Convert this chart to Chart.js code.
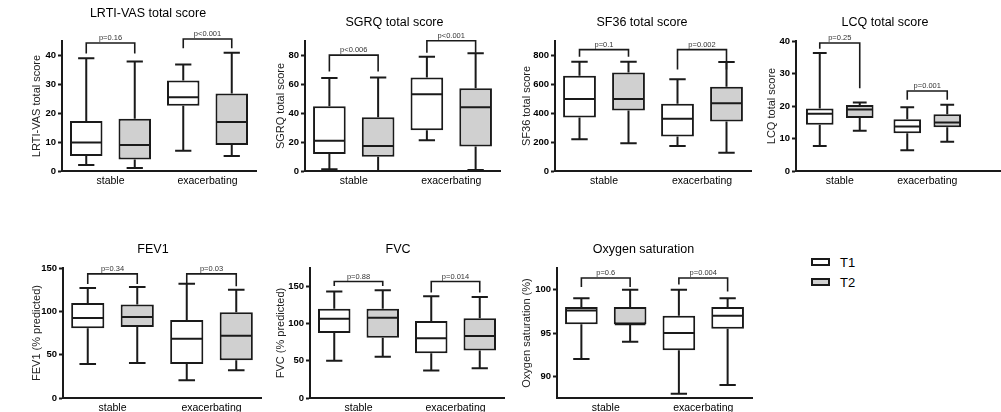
<!DOCTYPE html>
<html>
<head>
<meta charset="utf-8">
<script src="https://cdn.jsdelivr.net/npm/chart.js@4.4.0/dist/chart.umd.min.js"></script>
<style>
  html, body { margin: 0; padding: 0; background: #fff; overflow: hidden; width: 1001px; height: 412px; }
  canvas { position: absolute; }
  .key { position: absolute; left: 811px; height: 16px; display: flex; align-items: center;
         font: 13px 'Liberation Sans', Arial, sans-serif; color: #000; }
  .sw { width: 19px; height: 8px; box-sizing: border-box; border: 2px solid #1a1a1a; margin-right: 10px; }
</style>
</head>
<body>
<script>
const groups = ['stable', 'exacerbating'];
const seriesNames = ['T1', 'T2'];
const seriesFill = ['#ffffff', '#d0d0d0'];

// each box: [min, q1, median, q3, max], one per group
// each bracket: [level, left leg end, right leg end]
const lrtiT1 = [[2.1, 5.2, 9.9, 17.3, 39], [7, 22.6, 25.5, 31.3, 36.9]];
const lrtiT2 = [[1, 4, 9, 18.1, 37.9], [5.2, 9, 17, 26.8, 40.9]];
const lrtiBrackets = [[44.3, 40.7, 40.7], [45.7, 42.5, 42.5]];
const lrtiP = ['p=0.16', 'p<0.001'];
const lrtiAxis = [0, 45, 10];

const sgrqT1 = [[1.2, 11.8, 21, 44.9, 64.3], [21.3, 28.2, 53.2, 64.7, 79.1]];
const sgrqT2 = [[0, 9.9, 17.3, 37.2, 64.7], [0.7, 16.9, 44.2, 57.3, 81.6]];
const sgrqBrackets = [[80.2, 68.9, 68.9], [90.2, 81.9, 81.9]];
const sgrqP = ['p<0.006', 'p<0.001'];
const sgrqAxis = [0, 90, 20];

const sf36T1 = [[220, 370, 499, 659, 756], [173, 238, 361, 465, 636]];
const sf36T2 = [[192, 418, 499, 682, 756], [127, 342, 469, 583, 754]];
const sf36Brackets = [[840, 791, 791], [840, 702, 702]];
const sf36P = ['p=0.1', 'p=0.002'];
const sf36Axis = [0, 900, 200];

const lcqT1 = [[7.7, 14.2, 17.6, 19.2, 36.3], [6.4, 11.6, 13.7, 15.9, 19.6]];
const lcqT2 = [[12.4, 16.3, 18.9, 20.3, 21.1], [9, 13.5, 14.9, 17.5, 20.4]];
const lcqBrackets = [[39.4, 37.6, 25.5], [24.6, 21.9, 21.9]];
const lcqP = ['p=0.25', 'p=0.001'];
const lcqAxis = [0, 40, 10];

const fev1T1 = [[39.2, 80.4, 92.3, 109.6, 126.9], [20.4, 39.2, 68.5, 90, 131.9]];
const fev1T2 = [[40.4, 81.9, 93.5, 108, 128], [31.9, 43.5, 71.9, 98.8, 125]];
const fev1Brackets = [[143.2, 131.6, 131.6], [143.2, 131.6, 128.9]];
const fev1P = ['p=0.34', 'p=0.03'];
const fev1Axis = [0, 150, 50];

const fvcT1 = [[50, 87.4, 106.8, 120.3, 143.2], [36.9, 60.4, 80.6, 103.6, 137]];
const fvcT2 = [[55.4, 81.1, 108.1, 120.3, 145], [40.1, 64, 83.3, 107.2, 136]];
const fvcBrackets = [[156.8, 150.8, 150.8], [156.8, 141.9, 141.9]];
const fvcP = ['p=0.88', 'p=0.014'];
const fvcAxis = [0, 175, 50];

const o2T1 = [[92, 96, 97.6, 98, 99], [88, 93, 95, 97, 100]];
const o2T2 = [[94, 96, 96, 98, 100], [89, 95.5, 97, 98, 99]];
const o2Brackets = [[101.35, 100.3, 100.3], [101.35, 100.6, 99.8]];
const o2P = ['p=0.6', 'p=0.004'];
const o2Axis = [87.5, 102.5, 5];

const font = "'Liberation Sans', Arial, sans-serif";
const ink = '#1a1a1a';

// plot rectangles [left, top, right, bottom] in page pixels
const panels = [
  { title: 'LRTI-VAS total score', yTitle: 'LRTI-VAS total score', t1: lrtiT1, t2: lrtiT2,
    brackets: lrtiBrackets, p: lrtiP, axis: lrtiAxis, rect: [62, 41, 256, 171], top: 0, titleY: 14, yGap: 25, shift: -11 },
  { title: 'SGRQ total score', yTitle: 'SGRQ total score', t1: sgrqT1, t2: sgrqT2,
    brackets: sgrqBrackets, p: sgrqP, axis: sgrqAxis, rect: [305, 41, 500, 171], top: 0, titleY: 23, yGap: 24, shift: -8 },
  { title: 'SF36 total score', yTitle: 'SF36 total score', t1: sf36T1, t2: sf36T2,
    brackets: sf36Brackets, p: sf36P, axis: sf36Axis, rect: [555, 41, 751, 171], top: 0, titleY: 23, yGap: 28, shift: -11 },
  { title: 'LCQ total score', yTitle: 'LCQ total score', t1: lcqT1, t2: lcqT2,
    brackets: lcqBrackets, p: lcqP, axis: lcqAxis, rect: [796, 41, 971, 171], top: 0, titleY: 23, yGap: 24, shift: 1.5,
    axisEnd: 1001, catPct: 0.914, barPct: 0.69 },
  { title: 'FEV1', yTitle: 'FEV1 (% predicted)', t1: fev1T1, t2: fev1T2,
    brackets: fev1Brackets, p: fev1P, axis: fev1Axis, rect: [63, 268, 261, 398], top: 235, titleY: 250, yGap: 26, shift: -9 },
  { title: 'FVC', yTitle: 'FVC (% predicted)', t1: fvcT1, t2: fvcT2,
    brackets: fvcBrackets, p: fvcP, axis: fvcAxis, rect: [310, 268, 504, 398], top: 235, titleY: 250, yGap: 29, shift: -9 },
  { title: 'Oxygen saturation', yTitle: 'Oxygen saturation (%)', t1: o2T1, t2: o2T2,
    brackets: o2Brackets, p: o2P, axis: o2Axis, rect: [557, 268, 752, 398], top: 235, titleY: 250, yGap: 30, shift: -11,
    fill2: ['#d0d0d0', '#ffffff'] }
];

// whiskers, medians and p-value brackets, placed with the chart's own scales
const boxPlot = {
  id: 'boxPlot',
  afterDatasetsDraw(chart, args, opts) {
    const ctx = chart.ctx;
    const y = chart.scales.y;
    ctx.save();
    ctx.strokeStyle = ink;
    ctx.lineWidth = 2;
    chart.data.datasets.forEach((ds, i) => {
      chart.getDatasetMeta(i).data.forEach((bar, j) => {
        const [lo, q1, med, q3, hi] = ds.stats[j];
        const x = bar.x, hw = bar.width / 2, cw = bar.width / 4;
        ctx.beginPath();
        ctx.moveTo(x, y.getPixelForValue(q3));
        ctx.lineTo(x, y.getPixelForValue(hi));
        ctx.moveTo(x - cw, y.getPixelForValue(hi));
        ctx.lineTo(x + cw, y.getPixelForValue(hi));
        ctx.moveTo(x, y.getPixelForValue(q1));
        ctx.lineTo(x, y.getPixelForValue(lo));
        ctx.moveTo(x - cw, y.getPixelForValue(lo));
        ctx.lineTo(x + cw, y.getPixelForValue(lo));
        ctx.moveTo(x - hw + 1, y.getPixelForValue(med));
        ctx.lineTo(x + hw - 1, y.getPixelForValue(med));
        ctx.stroke();
      });
    });

    const a = chart.getDatasetMeta(0).data;
    const b = chart.getDatasetMeta(1).data;
    ctx.lineWidth = 1.6;
    ctx.fillStyle = '#333';
    ctx.font = '7.5px ' + font;
    ctx.textAlign = 'center';
    ctx.textBaseline = 'alphabetic';
    opts.brackets.forEach(([lvl, l, r], j) => {
      const yl = y.getPixelForValue(lvl);
      ctx.beginPath();
      ctx.moveTo(a[j].x, y.getPixelForValue(l));
      ctx.lineTo(a[j].x, yl);
      ctx.lineTo(b[j].x, yl);
      ctx.lineTo(b[j].x, y.getPixelForValue(r));
      ctx.stroke();
      ctx.fillText(opts.labels[j], (a[j].x + b[j].x) / 2, yl - 3);
    });

    // x axis line running on past the plot
    if (opts.axisEnd) {
      const area = chart.chartArea;
      ctx.lineWidth = 2;
      ctx.beginPath();
      ctx.moveTo(area.right - 1, area.bottom);
      ctx.lineTo(area.right + opts.axisEnd, area.bottom);
      ctx.stroke();
    }
    ctx.restore();
  }
};

panels.forEach(pn => {
  const [left, plotTop, right, bottom] = pn.rect;
  const [yMin, yMax, step] = pn.axis;
  // empty right-hand axis, only there to move the centred title sideways
  const spareR = 50 + 2 * pn.shift;
  const padTop = pn.titleY - pn.top - 7.5;
  const padBottom = plotTop - pn.top - 15 - padTop;

  const cv = document.createElement('canvas');
  cv.width = 50 + (right - left) + spareR;
  cv.height = bottom - pn.top + 25;
  cv.style.left = (left - 50) + 'px';
  cv.style.top = pn.top + 'px';
  document.body.appendChild(cv);

  const fills = [groups.map(() => seriesFill[0]), pn.fill2 || groups.map(() => seriesFill[1])];

  new Chart(cv.getContext('2d'), {
    type: 'bar',
    data: {
      labels: groups,
      datasets: [pn.t1, pn.t2].map((stats, i) => ({
        label: seriesNames[i],
        data: stats.map(s => [s[1], s[3]]),
        stats: stats,
        backgroundColor: fills[i],
        borderColor: ink,
        borderWidth: 2,
        borderSkipped: false,
        categoryPercentage: pn.catPct || 1.0,
        barPercentage: pn.barPct || 0.67
      }))
    },
    options: {
      responsive: false,
      animation: false,
      events: [],
      layout: { padding: 0 },
      plugins: {
        legend: { display: false },
        tooltip: { enabled: false },
        title: {
          display: true,
          text: pn.title,
          color: '#000',
          font: { family: font, size: 12.5, weight: 'normal' },
          padding: { top: padTop, bottom: padBottom }
        },
        boxPlot: {
          brackets: pn.brackets,
          labels: pn.p,
          axisEnd: pn.axisEnd ? pn.axisEnd - right : 0
        }
      },
      scales: {
        x: {
          afterFit: s => { s.height = 25; },
          grid: { display: false, drawTicks: false },
          border: { display: true, color: ink, width: 2 },
          ticks: { font: { family: font, size: 10.5 }, color: '#000', padding: 4 }
        },
        y: {
          min: yMin,
          max: yMax,
          afterFit: s => { s.width = 50; },
          afterBuildTicks: s => {
            const ticks = [];
            for (let v = Math.ceil(yMin / step) * step; v <= yMax + 1e-9; v += step) ticks.push({ value: v });
            s.ticks = ticks;
          },
          ticks: { stepSize: step, font: { family: font, size: 9.5, weight: 'bold' }, color: '#000', padding: 2 },
          grid: { drawOnChartArea: false, tickLength: 4, tickWidth: 2, tickColor: ink },
          border: { color: ink, width: 2 },
          title: {
            display: true,
            text: pn.yTitle,
            color: '#222',
            font: { family: font, size: 11 },
            padding: { top: 50 - pn.yGap - 6.6, bottom: 0 }
          }
        },
        spare: {
          type: 'linear',
          position: 'right',
          display: true,
          afterFit: s => { s.width = spareR; },
          ticks: { display: false },
          grid: { display: false },
          border: { display: false }
        }
      }
    },
    plugins: [boxPlot]
  });
});

// series key
seriesNames.forEach((name, i) => {
  const row = document.createElement('div');
  row.className = 'key';
  row.style.top = (254 + 20 * i) + 'px';
  const sw = document.createElement('span');
  sw.className = 'sw';
  sw.style.background = seriesFill[i];
  row.appendChild(sw);
  row.appendChild(document.createTextNode(name));
  document.body.appendChild(row);
});
</script>
</body>
</html>
